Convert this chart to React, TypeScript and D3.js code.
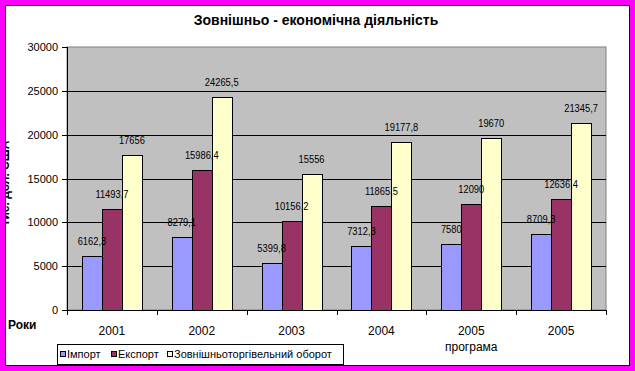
import * as d3 from 'd3'
import { useEffect } from 'react'

const years = ['2001', '2002', '2003', '2004', '2005', '2005']
const seriesNames = ['Імпорт', 'Експорт', 'Зовнішньоторгівельний оборот']
const importVals = [6162.3, 8279.1, 5399.8, 7312.3, 7580, 8709.3]
const exportVals = [11493.7, 15986.4, 10156.2, 11865.5, 12090, 12636.4]
const turnoverVals = [17656, 24265.5, 15556, 19177.8, 19670, 21345.7]
const yTicks = [0, 5000, 10000, 15000, 20000, 25000, 30000]
const colors = ['#9999FF', '#993366', '#FFFFCC']

const W = 635
const H = 371
const PLOT = { left: 67, right: 606, top: 47, bottom: 310 }

const fmt = d3.formatLocale({ decimal: ',', thousands: '', grouping: [3], currency: ['', ''] }).format('~f')
const arial = '"Liberation Sans", Arial, sans-serif'

export default function App() {
    useEffect(() => {
        document.body.style.margin = '0'
    }, [])

    const allSeries = [importVals, exportVals, turnoverVals]

    const x0 = d3.scaleBand<number>()
        .domain(years.map((_, i) => i))
        .range([PLOT.left, PLOT.right])
        .padding(0)

    const x1 = d3.scaleBand<number>()
        .domain(seriesNames.map((_, i) => i))
        .range([0, x0.bandwidth()])
        .paddingInner(0)
        .paddingOuter(0.75)

    const y = d3.scaleLinear().domain([0, 30000]).range([PLOT.bottom, PLOT.top])

    const boundaries = d3.range(years.length + 1).map(i => PLOT.left + i * x0.step())

    return (
        <svg width={W} height={H} style={{ display: 'block', position: 'absolute', left: 0, top: 0 }}>
            <rect x={0} y={0} width={W} height={H} fill="#FF00FF" />
            <rect x={5.5} y={5.5} width={624} height={360} fill="#fff" stroke="#000" />

            {/* y axis title, clipped by the frame like in the original */}
            <text transform={`translate(8.5, 183) rotate(-90)`} textAnchor="middle"
                fontFamily={arial} fontWeight="bold" fontSize={12}>тис. дол. США</text>
            <rect x={0} y={0} width={5} height={H} fill="#FF00FF" />
            <line x1={5.5} x2={5.5} y1={5} y2={366} stroke="#000" />

            <text x={316} y={25} textAnchor="middle" fontFamily={arial} fontWeight="bold" fontSize={14}>
                Зовнішньо - економічна діяльність
            </text>

            {/* plot area */}
            <rect x={PLOT.left} y={PLOT.top} width={PLOT.right - PLOT.left} height={PLOT.bottom - PLOT.top}
                fill="#C0C0C0" stroke="#808080" />
            {yTicks.filter(t => t > 0 && t < 30000).map(t => (
                <line key={t} x1={PLOT.left} x2={PLOT.right} y1={Math.round(y(t)) + 0.5} y2={Math.round(y(t)) + 0.5} stroke="#000" />
            ))}

            {/* bars */}
            {allSeries.map((vals, s) => vals.map((v, i) => (
                <rect key={`${s}-${i}`}
                    x={Math.round((x0(i) ?? 0) + (x1(s) ?? 0)) + 0.5}
                    y={Math.round(y(v)) + 0.5}
                    width={Math.round(x1.bandwidth())}
                    height={Math.round(y(0)) - Math.round(y(v))}
                    fill={colors[s]} stroke="#000" />
            )))}

            {/* data labels (narrow face, squeezed horizontally) */}
            {allSeries.map((vals, s) => vals.map((v, i) => {
                const cx = (x0(i) ?? 0) + (x1(s) ?? 0) + x1.bandwidth() / 2
                return (
                    <text key={`l${s}-${i}`}
                        transform={`translate(${cx}, ${y(v) - 11}) scale(0.85, 1)`}
                        textAnchor="middle" fontFamily={arial} fontSize={11}>
                        {fmt(v)}
                    </text>
                )
            }))}

            {/* y axis */}
            <line x1={PLOT.left + 0.5} x2={PLOT.left + 0.5} y1={PLOT.top} y2={PLOT.bottom} stroke="#000" />
            {yTicks.map(t => (
                <g key={t}>
                    <line x1={PLOT.left - 5} x2={PLOT.left} y1={Math.round(y(t)) + 0.5} y2={Math.round(y(t)) + 0.5} stroke="#000" />
                    <text x={58} y={y(t) + 4} textAnchor="end" fontFamily={arial} fontSize={11}>{t}</text>
                </g>
            ))}

            {/* x axis */}
            <line x1={PLOT.left} x2={PLOT.right} y1={PLOT.bottom + 0.5} y2={PLOT.bottom + 0.5} stroke="#000" />
            {boundaries.map((b, i) => (
                <line key={i} x1={Math.round(b) + 0.5} x2={Math.round(b) + 0.5} y1={PLOT.bottom} y2={PLOT.bottom + 5} stroke="#000" />
            ))}
            {years.map((yr, i) => (
                <text key={i} x={(x0(i) ?? 0) + x0.bandwidth() / 2} y={335} textAnchor="middle"
                    fontFamily={arial} fontSize={12}>{yr}</text>
            ))}
            <text x={(x0(5) ?? 0) - x0.bandwidth() / 2} y={351} textAnchor="middle" fontFamily={arial} fontSize={12}>програма</text>

            <text x={8} y={329} fontFamily={arial} fontWeight="bold" fontSize={12}>Роки</text>

            {/* legend */}
            <rect x={57.5} y={344.5} width={286} height={20} fill="#fff" stroke="#000" />
            {seriesNames.map((n, i) => {
                const lx = [60, 111, 167][i]
                return (
                    <g key={n}>
                        <rect x={lx + 0.5} y={351.5} width={5} height={5} fill={colors[i]} stroke="#000" />
                        <text x={lx + 7} y={358} fontFamily={arial} fontSize={11}>{n}</text>
                    </g>
                )
            })}
        </svg>
    )
}
